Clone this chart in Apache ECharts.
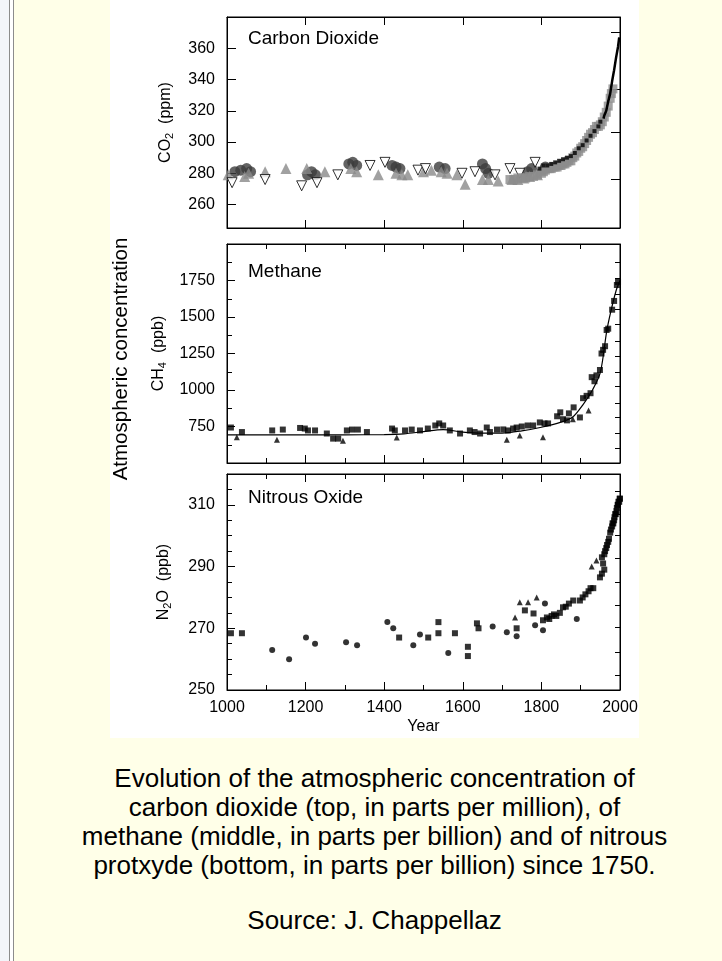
<!DOCTYPE html>
<html><head><meta charset="utf-8">
<script src="https://cdn.jsdelivr.net/npm/echarts@6/dist/echarts.min.js"></script>
<style>
html,body{margin:0;padding:0;width:722px;height:961px;overflow:hidden;background:#FFFFE8;}
#leftStrip{position:absolute;left:0;top:0;width:9px;height:961px;background:#f3f5fa;}
#bl1{position:absolute;left:9px;top:0;width:1px;height:961px;background:#8c8c8c;}
#bl2{position:absolute;left:13px;top:0;width:1px;height:961px;background:#8c8c8c;}
#bfill{position:absolute;left:10px;top:0;width:3px;height:961px;background:#ffffff;}
#whitebox{position:absolute;left:110px;top:0;width:529px;height:738px;background:#fff;}
#chart{position:absolute;left:0;top:0;width:722px;height:961px;}
#caption{position:absolute;left:0;width:749px;top:764px;text-align:center;font-family:"Liberation Sans",Arial,sans-serif;font-size:26px;line-height:29px;color:#000;white-space:nowrap;}
#source{position:absolute;left:0;width:749px;top:906px;text-align:center;font-family:"Liberation Sans",Arial,sans-serif;font-size:26px;line-height:29px;color:#000;white-space:nowrap;}
</style></head>
<body>
<div id="leftStrip"></div><div id="bl1"></div><div id="bfill"></div><div id="bl2"></div>
<div id="whitebox"></div>
<div id="caption">Evolution of the atmospheric concentration of<br>carbon dioxide (top, in parts per million), of<br>methane (middle, in parts per billion) and of nitrous<br>protxyde (bottom, in parts per billion) since 1750.</div>
<div id="source">Source: J. Chappellaz</div>
<div id="chart"></div>
<script>
// ---------------- data ----------------
const panelTitles = ['Carbon Dioxide', 'Methane', 'Nitrous Oxide'];
const yearRange = [1000, 2000];
const xMajorTicks = [1000, 1200, 1400, 1600, 1800, 2000];
const xMinorTicks = [1100, 1300, 1500, 1700, 1900];

const co2Range = [245, 380];
const co2LabelTicks = [260, 280, 300, 320, 340, 360];
const co2RightTicks = [276, 306, 334, 370];

const ch4Range = [500, 2000];
const ch4LabelTicks = [750, 1000, 1250, 1500, 1750];
const ch4MinorTicks = [625, 875, 1125, 1375, 1625, 1875];
const ch4RightTicks = [598, 702, 812, 909, 1026, 1123, 1233, 1337, 1447, 1551, 1655, 1765, 1876];

const n2oRange = [250, 320];
const n2oLabelTicks = [250, 270, 290, 310];
const n2oMinorTicks = [255, 260, 265, 275, 280, 285, 295, 300, 305, 315];
const n2oRightTicks = [254.8, 262.3, 270.3, 277.4, 284.8, 292.6, 300, 307, 314.5];

// CO2 (ppm)
const co2Circles = [[1020,281],[1035,282],[1050,283],[1060,281],[1205,279],[1215,281],[1225,279],[1310,286],[1320,287],[1330,285],
  [1420,285],[1430,284],[1440,283],[1540,284],[1555,283],[1650,286],[1658,283],[1665,280],[1765,281],[1775,283],[1810,284]];
const co2Triangles = [[1003,279],[1045,278],[1055,280],[1097,281],[1150,283],[1203,283],[1249,281],[1315,283],[1330,281],[1385,279],
  [1430,280],[1445,279],[1460,279],[1500,281],[1520,282],[1545,281],[1560,280],[1585,279],[1606,273],[1650,276],[1665,276],[1690,275],
  [1725,276],[1740,276],[1755,277],[1770,278],[1790,279]];
const co2OpenTriangles = [[1013,274],[1097,276],[1190,272],[1229,274],[1282,279],[1364,285],[1402,287],[1486,282],[1505,283],[1598,280],
  [1631,281],[1682,279],[1720,283],[1745,280],[1784,287]];
const co2Squares = [[1720,276],[1730,276],[1740,277],[1750,277],[1760,277],[1770,278],[1780,278],[1790,279],[1800,280],[1805,281],[1810,282],
  [1815,283],[1820,283],[1825,283],[1830,284],[1835,284],[1840,284],[1845,285],[1850,285],[1855,286],[1860,286],[1865,287],[1870,288],
  [1875,288],[1880,290],[1885,291],[1890,293],[1895,294],[1900,296],[1905,297],[1910,299],[1915,301],[1920,303],[1925,305],[1930,306],
  [1935,308],[1940,310],[1945,310],[1950,311],[1955,313],[1960,316],[1965,319],[1970,323],[1975,328],[1978,331],[1982,334]];
const co2BlackMarks = [[1795,283],[1805,285],[1815,285],[1825,286],[1835,287],[1845,288],[1855,289],[1865,290],[1875,291],[1885,293],
  [1895,296],[1905,298],[1915,301],[1925,304],[1935,307],[1945,310],[1950,313]];
const co2MaunaLoa = [[1958,315],[1960,317],[1965,320],[1970,326],[1975,331],[1980,339],[1985,346],[1990,354],[1995,361],[1998,367]];

// CH4 (ppb)
const ch4Squares = [[1010,743],[1038,712],[1115,723],[1142,729],[1186,740],[1198,736],[1206,723],[1224,723],[1254,702],[1270,667],[1283,667],
  [1305,723],[1318,729],[1333,729],[1356,712],[1420,736],[1427,723],[1453,723],[1470,729],[1491,723],[1511,736],[1530,757],[1540,771],
  [1550,757],[1567,723],[1593,702],[1618,723],[1630,712],[1644,702],[1661,743],[1669,712],[1687,729],[1703,730],[1715,723],[1728,736],
  [1737,743],[1750,750],[1765,757],[1779,757],[1796,778],[1808,771],[1817,771],[1840,820],[1848,847],[1855,800],[1865,792],[1870,840],
  [1882,881],[1898,812],[1906,944],[1915,960],[1925,978],[1928,1088],[1935,1060],[1940,1100],[1949,1137],[1953,1250],[1957,1275],
  [1962,1300],[1966,1411],[1970,1420],[1980,1550],[1985,1610],[1992,1719],[1995,1740]];
const ch4Triangles = [[1025,676],[1127,660],[1295,653],[1432,674],[1712,660],[1745,688],[1804,676],[1880,800],[1920,860]];
const ch4Fit = [[1000,692],[1100,692],[1200,693],[1300,693],[1400,695],[1450,700],[1500,715],[1550,728],[1600,712],[1650,705],[1700,705],
  [1750,720],[1800,745],[1850,780],[1880,815],[1906,900],[1930,1000],[1950,1120],[1966,1400],[1976,1530],[1990,1680],[2000,1750]];

// N2O (ppb)
const n2oCircles = [[1115,263],[1158,260],[1201,267],[1224,265],[1303,265.5],[1331,264.5],[1408,272],[1423,270],[1474,264.5],[1491,268],
  [1563,262],[1676,270.6],[1712,268.7],[1737,267.4],[1784,271],[1809,278],[1804,269.4],[1890,273]];
const n2oSquares = [[1010,268.4],[1038,268.4],[1438,267],[1512,267],[1538,272],[1538,268.4],[1580,268.4],[1613,264],[1613,261],[1636,271.6],
  [1640,270],[1737,270],[1758,275.8],[1780,274.8],[1804,272.6],[1949,286.5],[1954,287.7],[1960,289]];
const n2oTriangles = [[1733,273.5],[1745,278.4],[1766,278.4],[1788,280],[1928,290],[1940,292]];
const n2oDense = [[1814,273.5],[1820,273],[1826,274],[1832,274.5],[1838,274],[1847,275],[1855,276.8],[1862,277],[1870,278],[1881,279],
  [1898,279],[1905,280],[1912,281],[1920,282],[1925,283],[1932,283],[1954,293],[1957,291],[1960,294],[1962,295],[1965,296],[1967,297],
  [1970,298],[1972,299],[1975,301],[1977,302],[1980,303],[1981,304],[1983,304],[1985,305],[1986,306],[1988,307],[1989,307],[1991,308],
  [1992,309],[1994,310],[1995,310],[1996,311],[1998,311],[1999,312],[2000,312]];

// ---------------- layout ----------------
const FONT = '"Liberation Sans", Arial, Helvetica, sans-serif';
const grids = [
  {left: 227, top: 17, width: 393, height: 211},
  {left: 227, top: 244, width: 393, height: 219},
  {left: 227, top: 474, width: 393, height: 216}
];
const xAxis = [], yAxis = [];
const lineBlack = {color: '#000', width: 1};
const plain = v => String(v);

function addX(gi, pos, ticks, len, opts) {
  xAxis.push(Object.assign({
    type: 'value', gridIndex: gi, position: pos, min: yearRange[0], max: yearRange[1], interval: 200,
    splitLine: {show: false},
    axisLine: {show: true, onZero: false, lineStyle: lineBlack},
    axisTick: {show: true, inside: true, length: len, customValues: ticks, lineStyle: lineBlack},
    axisLabel: {show: false}
  }, opts || {}));
  return xAxis.length - 1;
}
function addY(gi, pos, range, ticks, len, opts) {
  yAxis.push(Object.assign({
    type: 'value', gridIndex: gi, position: pos, min: range[0], max: range[1],
    splitLine: {show: false},
    axisLine: {show: true, onZero: false, lineStyle: lineBlack},
    axisTick: {show: true, inside: true, length: len, customValues: ticks, lineStyle: lineBlack},
    axisLabel: {show: false}
  }, opts || {}));
  return yAxis.length - 1;
}
const labelStyle = {color: '#000', fontSize: 16, fontFamily: FONT, formatter: plain};
const nameRich = {
  n: {fontSize: 16, fontFamily: FONT, color: '#000'},
  s: {fontSize: 11, fontFamily: FONT, color: '#000', verticalAlign: 'bottom', padding: [8, 0, 0, 0]}
};

// X axes
const xMain = [];
for (let g = 0; g < 3; g++) {
  const isBottom = g === 2;
  xMain[g] = addX(g, 'bottom', xMajorTicks, 8, isBottom ? {
    axisLabel: Object.assign({show: true, margin: 10, customValues: xMajorTicks}, labelStyle),
    name: 'Year', nameLocation: 'middle', nameGap: 29,
    nameTextStyle: {fontSize: 16, fontFamily: FONT, color: '#000'}
  } : {});
  addX(g, 'top', xMajorTicks, 8);
  if (g > 0) {
    addX(g, 'bottom', xMinorTicks, 5, {axisLine: {show: false}});
    addX(g, 'top', xMinorTicks, 5, {axisLine: {show: false}});
  }
}

// Y axes
const yMain = [];
yMain[0] = addY(0, 'left', co2Range, co2LabelTicks, 9, {
  axisLabel: Object.assign({show: true, margin: 12, customValues: co2LabelTicks}, labelStyle),
  name: '{n|CO}{s|2}{n|  (ppm)}', nameLocation: 'middle', nameRotate: 90, nameGap: 52,
  nameTextStyle: {rich: nameRich}
});
addY(0, 'right', co2Range, co2RightTicks, 9);

yMain[1] = addY(1, 'left', ch4Range, ch4LabelTicks, 8, {
  axisLabel: Object.assign({show: true, margin: 12, customValues: ch4LabelTicks}, labelStyle),
  name: '{n|CH}{s|4}{n|  (ppb)}', nameLocation: 'middle', nameRotate: 90, nameGap: 55,
  nameTextStyle: {rich: nameRich}
});
addY(1, 'left', ch4Range, ch4MinorTicks, 5, {axisLine: {show: false}});
addY(1, 'right', ch4Range, ch4RightTicks, 5);

yMain[2] = addY(2, 'left', n2oRange, n2oLabelTicks, 8, {
  axisLabel: Object.assign({show: true, margin: 12, customValues: n2oLabelTicks}, labelStyle),
  name: '{n|N}{s|2}{n|O  (ppb)}', nameLocation: 'middle', nameRotate: 90, nameGap: 54,
  nameTextStyle: {rich: nameRich}
});
addY(2, 'left', n2oRange, n2oMinorTicks, 5, {axisLine: {show: false}});
addY(2, 'right', n2oRange, n2oRightTicks, 5);

// ---------------- series ----------------
function scatter(g, data, symbol, size, color, extra) {
  return Object.assign({
    type: 'scatter', xAxisIndex: xMain[g], yAxisIndex: yMain[g], data: data,
    symbol: symbol, symbolSize: size, itemStyle: {color: color}, silent: true
  }, extra || {});
}
const series = [
  scatter(0, co2Circles, 'circle', 11, '#3c3c3c'),
  scatter(0, co2Triangles, 'triangle', 11, '#8a8a8a'),
  scatter(0, co2OpenTriangles, 'triangle', 10, '#ffffff', {symbolRotate: 180, itemStyle: {color: '#fff', borderColor: '#000', borderWidth: 1}}),
  scatter(0, co2Squares, 'rect', 9, '#8c8c8c'),
  scatter(0, co2BlackMarks, 'rect', 4, '#000'),
  {type: 'line', xAxisIndex: xMain[0], yAxisIndex: yMain[0], data: co2MaunaLoa, showSymbol: false, symbol: 'none',
   lineStyle: {color: '#000', width: 2.5}, silent: true},

  {type: 'line', xAxisIndex: xMain[1], yAxisIndex: yMain[1], data: ch4Fit, showSymbol: false, symbol: 'none', smooth: 0.3,
   lineStyle: {color: '#000', width: 1.2}, silent: true},
  scatter(1, ch4Squares, 'rect', 6, '#000'),
  scatter(1, ch4Triangles, 'triangle', 6, '#000'),

  scatter(2, n2oCircles, 'circle', 6, '#000'),
  scatter(2, n2oSquares, 'rect', 6, '#000'),
  scatter(2, n2oTriangles, 'triangle', 6, '#000'),
  scatter(2, n2oDense, 'rect', 6, '#000')
];

const titleY = [40, 273, 499];
const graphic = panelTitles.map((t, i) => ({
  type: 'text', left: 248, top: titleY[i] - 11, silent: true,
  style: {text: t, fontSize: 19, fontFamily: FONT, fill: '#000'}
}));
graphic.push({
  type: 'text', x: 121, y: 359, rotation: Math.PI / 2, silent: true,
  style: {text: 'Atmospheric concentration', fontSize: 20.5, fontFamily: FONT, fill: '#000', align: 'center', verticalAlign: 'middle'}
});

const chart = echarts.init(document.getElementById('chart'), null, {renderer: 'canvas'});
chart.setOption({
  animation: false,
  backgroundColor: 'transparent',
  grid: grids.map(g => Object.assign({show: true, borderColor: '#000', borderWidth: 1, backgroundColor: '#fff', containLabel: false}, g)),
  xAxis: xAxis,
  yAxis: yAxis,
  series: series,
  graphic: graphic
});
</script>
</body></html>
